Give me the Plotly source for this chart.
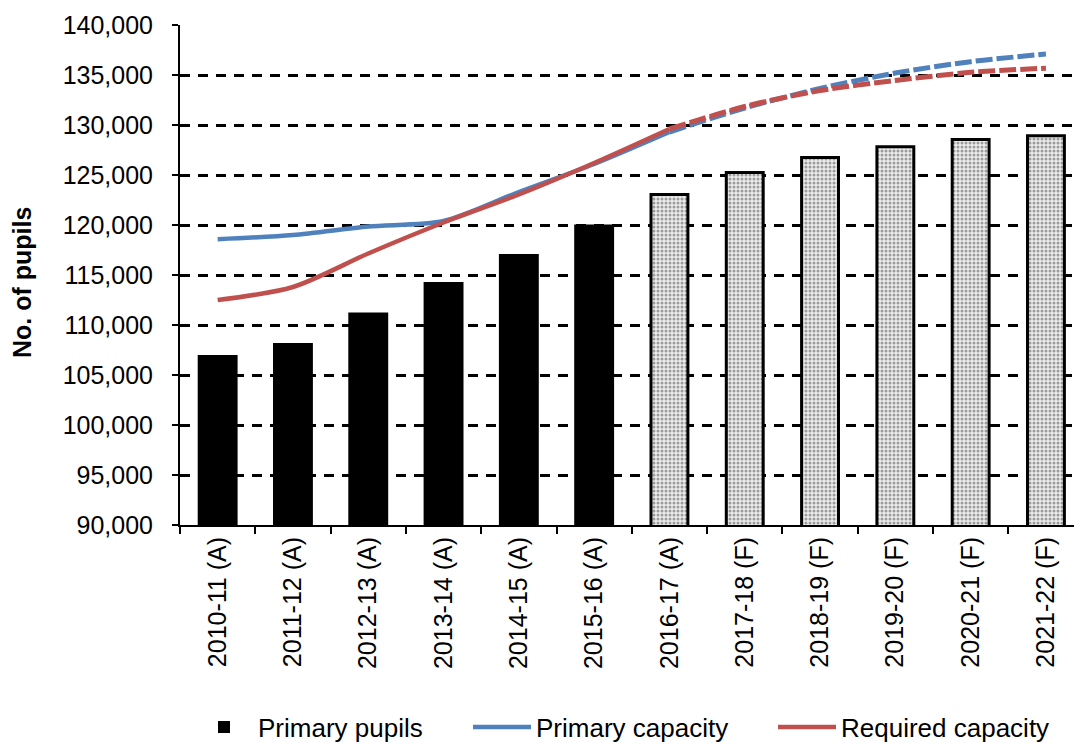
import plotly.graph_objects as go

categories = ["2010-11 (A)", "2011-12 (A)", "2012-13 (A)", "2013-14 (A)", "2014-15 (A)", "2015-16 (A)",
              "2016-17 (A)", "2017-18 (F)", "2018-19 (F)", "2019-20 (F)", "2020-21 (F)", "2021-22 (F)"]
primary_pupils = [107000, 108200, 111250, 114300, 117100, 120050,
                  123050, 125250, 126750, 127820, 128550, 128920]
primary_capacity = [118580, 119000, 119850, 120400, 123300, 126100,
                    129300, 131700, 133650, 135200, 136330, 137100]
required_capacity = [112500, 113800, 117150, 120250, 123050, 126200,
                     129600, 131850, 133450, 134450, 135270, 135680]
actual_count = 6  # first six bars are actual (solid black)
solid_lines_until = 7  # lines solid through 2016-17

BLUE = "#4F81BD"
RED = "#C0504D"
FONT = "Liberation Sans, Arial, sans-serif"

fig = go.Figure()
fig.add_trace(go.Bar(
    x=categories[:actual_count], y=primary_pupils[:actual_count], name="Primary pupils",
    width=0.53, marker=dict(color="black", line=dict(width=0)),
    legend="legend",
))
fig.add_trace(go.Bar(
    x=categories[actual_count:], y=primary_pupils[actual_count:], name="Primary pupils",
    width=0.49, showlegend=False,
    marker=dict(color="#e6e6e6", line=dict(color="black", width=3),
                pattern=dict(shape=".", fgcolor="#4a4a4a", bgcolor="#ececec",
                             size=4, solidity=0.45)),
))

def add_line(values, color, name, legend):
    fig.add_trace(go.Scatter(
        x=categories[:solid_lines_until], y=values[:solid_lines_until], mode="lines",
        name=name, line=dict(color=color, width=4.5, shape="spline", smoothing=0.8),
        legend=legend,
    ))
    fig.add_trace(go.Scatter(
        x=categories[solid_lines_until - 1:], y=values[solid_lines_until - 1:], mode="lines",
        name=name, showlegend=False,
        line=dict(color=color, width=5, shape="spline", smoothing=0.8, dash="17px,4px"),
        legend=legend,
    ))

add_line(primary_capacity, BLUE, "Primary capacity", "legend2")
add_line(required_capacity, RED, "Required capacity", "legend3")

W, H = 1074, 742
L, T = 180, 25
plot_w = W - L
plot_h = 500
cat_px = 75.3
x_max = -0.5 + plot_w / cat_px

def px_x(px):
    return (px - L) / plot_w

def px_y(py):
    return (T + plot_h - py) / plot_h

legend_common = dict(orientation="h", yanchor="middle", xanchor="left", yref="container",
                     y=(H - 727) / H,
                     font=dict(family=FONT, size=26, color="black"),
                     bgcolor="rgba(0,0,0,0)", itemwidth=58)

fig.update_layout(
    width=W, height=H,
    margin=dict(l=L, r=0, t=T, b=H - T - plot_h),
    plot_bgcolor="white", paper_bgcolor="white",
    font=dict(family=FONT, size=25, color="black"),
    barmode="overlay",
    legend=dict(x=px_x(190), **legend_common),
    legend2=dict(x=px_x(468), **legend_common),
    legend3=dict(x=px_x(773), **legend_common),
    xaxis=dict(
        range=[-0.5, x_max], tickangle=-90, tickson="boundaries",
        ticks="outside", ticklen=7, tickwidth=2, tickcolor="black",
        showline=True, linecolor="black", linewidth=2,
        showgrid=False, tickfont=dict(family=FONT, size=25, color="black"),
    ),
    yaxis=dict(
        range=[90000, 140000], dtick=5000, tickformat=",",
        ticks="outside", ticklen=6, tickwidth=2, tickcolor="black",
        showline=True, linecolor="black", linewidth=2,
        showgrid=True, gridcolor="black", gridwidth=2.5, griddash="10px,8px",
        zeroline=False, ticklabelstandoff=14,
        tickfont=dict(family=FONT, size=25, color="black"),
    ),
    annotations=[dict(
        text="<b>No. of pupils</b>", xref="paper", yref="paper",
        x=px_x(22), y=px_y(283), xanchor="center", yanchor="middle",
        textangle=-90, showarrow=False,
        font=dict(family=FONT, size=25, color="black"),
    )],
)

fig.write_html("out.html", config={"displayModeBar": False},
               post_script="document.body.style.margin='0px';"
                           "document.documentElement.style.overflow='hidden';")
